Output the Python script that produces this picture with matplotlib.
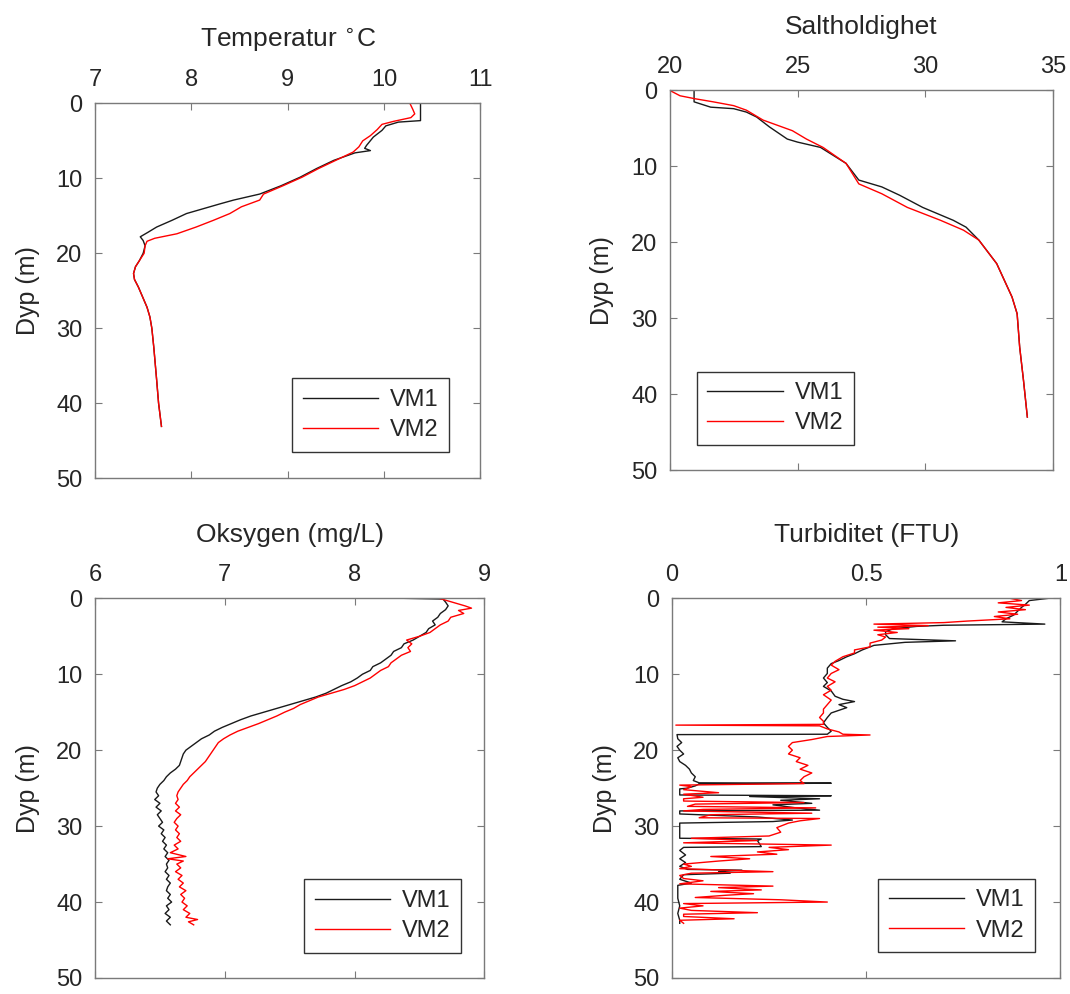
import matplotlib
matplotlib.use("Agg")
import matplotlib.pyplot as plt

plt.rcParams["font.family"] = ["Liberation Sans", "DejaVu Sans"]
plt.rcParams["font.size"] = 17

# ---- Temperatur ----
temp_d1 = [0, 2.3, 2.5, 3.0, 3.6, 4.5, 5.6, 6.0, 6.3, 6.6, 7.6, 8.7, 9.85, 11.0, 12.1, 12.9,
           13.4, 14.7, 15.6, 16.5, 17.2, 17.8, 18.3, 19.0, 20.0, 21.0, 21.8, 22.7, 23.5, 24.5,
           26.0, 27.2, 28.5, 30.0, 32.5, 36.9, 40.0, 43.1]
temp_v1 = [10.38, 10.38, 10.15, 10.02, 9.98, 9.89, 9.82, 9.80, 9.86, 9.70, 9.48, 9.30, 9.13, 8.93,
           8.71, 8.44, 8.30, 7.95, 7.80, 7.64, 7.55, 7.47, 7.50, 7.52, 7.50, 7.46, 7.42, 7.40,
           7.41, 7.45, 7.50, 7.54, 7.57, 7.59, 7.61, 7.64, 7.66, 7.69]
temp_d2 = [0, 0.8, 1.4, 1.9, 2.4, 2.8, 3.5, 4.3, 5.0, 5.8, 6.5, 7.6, 8.7, 9.85, 11.0, 12.1,
           12.9, 13.8, 14.7, 15.6, 16.5, 17.4, 18.0, 18.4, 19.0, 20.0, 21.0, 21.8, 22.7, 23.5,
           24.5, 26.0, 27.2, 28.5, 30.0, 32.5, 36.9, 40.0, 43.1]
temp_v2 = [10.27, 10.30, 10.32, 10.28, 10.10, 9.98, 9.93, 9.86, 9.78, 9.74, 9.68, 9.50, 9.32,
           9.15, 8.95, 8.75, 8.71, 8.52, 8.40, 8.23, 8.05, 7.85, 7.62, 7.54, 7.52, 7.51, 7.46,
           7.42, 7.40, 7.41, 7.45, 7.50, 7.54, 7.57, 7.59, 7.61, 7.64, 7.66, 7.69]

# ---- Saltholdighet ----
salt_d1 = [0, 1.5, 2.2, 2.4, 2.85, 3.5, 4.8, 6.4, 6.8, 7.5, 9.6, 11.8, 12.7, 13.8, 15.4, 17.1,
           18.0, 19.7, 22.8, 25.0, 27.2, 29.4, 33.8, 38.2, 43.0]
salt_v1 = [20.95, 20.95, 21.6, 22.5, 23.0, 23.4, 23.9, 24.6, 25.0, 25.9, 26.9, 27.4, 28.3, 29.0,
           29.9, 31.1, 31.6, 32.1, 32.8, 33.1, 33.4, 33.6, 33.7, 33.85, 34.0]
salt_d2 = [0, 0.7, 1.1, 1.5, 2.0, 2.6, 3.9, 5.3, 6.4, 7.5, 9.6, 12.3, 13.6, 15.4, 17.1, 18.4,
           19.7, 22.8, 25.0, 27.2, 29.4, 33.8, 38.2, 43.0]
salt_v2 = [20.0, 20.4, 21.0, 21.7, 22.5, 23.0, 23.65, 24.8, 25.35, 26.0, 26.9, 27.4, 28.3, 29.3,
           30.6, 31.5, 32.1, 32.8, 33.1, 33.4, 33.6, 33.7, 33.85, 34.0]

# ---- Oksygen ----
oks_d1 = [0, 0.1, 0.5, 1.0, 1.5, 2.0, 2.5, 3.0, 3.5, 4.0, 4.5, 5.0, 5.5, 6.0, 6.5, 7.0, 7.5, 8.0,
          8.5, 9.0, 9.5, 10.0, 10.5, 11.0, 11.5, 12.0, 12.5, 13.0, 13.5, 14.0, 14.5, 15.0, 15.5,
          16.0, 16.5, 17.0, 17.5, 18.0, 18.5, 19.0, 19.5, 20.0, 20.5, 21.0, 21.5, 22.0, 22.5,
          23.0, 23.5, 24.0, 24.5, 25.0, 25.5, 26.0, 26.5, 27.0, 27.5, 28.0, 28.5, 29.0, 29.5,
          30.0, 30.5, 31.0, 31.5, 32.0, 32.5, 33.0, 33.5, 34.0, 34.5, 35.0, 35.5, 36.0, 36.5,
          37.0, 37.5, 38.0, 38.5, 39.0, 39.5, 40.0, 40.5, 41.0, 41.5, 42.0, 42.5, 43.0]
oks_v1 = [8.37, 8.68, 8.70, 8.72, 8.70, 8.66, 8.64, 8.60, 8.62, 8.57, 8.55, 8.50, 8.45, 8.38,
          8.36, 8.30, 8.28, 8.24, 8.20, 8.14, 8.12, 8.06, 8.02, 7.97, 7.90, 7.84, 7.78, 7.70,
          7.60, 7.50, 7.40, 7.30, 7.20, 7.12, 7.05, 6.98, 6.92, 6.88, 6.82, 6.78, 6.74, 6.70,
          6.68, 6.67, 6.66, 6.65, 6.62, 6.58, 6.55, 6.53, 6.50, 6.48, 6.47, 6.49, 6.46, 6.50,
          6.47, 6.51, 6.48, 6.50, 6.52, 6.49, 6.53, 6.51, 6.54, 6.52, 6.55, 6.53, 6.56, 6.54,
          6.57, 6.55, 6.56, 6.54, 6.57, 6.55, 6.58, 6.56, 6.55, 6.58, 6.56, 6.59, 6.55, 6.57,
          6.54, 6.58, 6.55, 6.58]
oks_d2 = [0, 0.5, 1.0, 1.3, 1.6, 2.0, 2.5, 3.0, 3.5, 4.0, 4.5, 5.0, 5.5, 6.0, 6.5, 7.0, 7.5, 8.0,
          8.5, 9.0, 9.5, 10.0, 10.5, 11.0, 11.5, 12.0, 12.5, 13.0, 13.5, 14.0, 14.5, 15.0, 15.5,
          16.0, 16.5, 17.0, 17.5, 18.0, 18.5, 19.0, 19.5, 20.0, 20.5, 21.0, 21.5, 22.0, 22.5,
          23.0, 23.5, 24.0, 24.5, 25.0, 25.5, 26.0, 26.5, 27.0, 27.5, 28.0, 28.5, 29.0, 29.5,
          30.0, 30.5, 31.0, 31.5, 32.0, 32.5, 33.0, 33.5, 34.0, 34.3, 34.6, 35.0, 35.5, 36.0,
          36.5, 37.0, 37.5, 38.0, 38.5, 39.0, 39.5, 40.0, 40.5, 41.0, 41.5, 42.0, 42.3, 42.6, 43.0]
oks_v2 = [8.65, 8.75, 8.85, 8.90, 8.80, 8.84, 8.74, 8.72, 8.66, 8.62, 8.58, 8.50, 8.40, 8.44,
          8.41, 8.43, 8.36, 8.32, 8.28, 8.26, 8.20, 8.16, 8.12, 8.06, 8.00, 7.92, 7.82, 7.72,
          7.65, 7.58, 7.53, 7.46, 7.40, 7.33, 7.26, 7.18, 7.10, 7.04, 6.99, 6.95, 6.93, 6.91,
          6.89, 6.87, 6.85, 6.82, 6.79, 6.76, 6.73, 6.71, 6.68, 6.66, 6.64, 6.63, 6.64, 6.62,
          6.65, 6.62, 6.66, 6.63, 6.61, 6.64, 6.62, 6.65, 6.63, 6.66, 6.61, 6.64, 6.58, 6.70,
          6.56, 6.68, 6.63, 6.66, 6.62, 6.67, 6.64, 6.68, 6.65, 6.70, 6.66, 6.69, 6.67, 6.71,
          6.68, 6.73, 6.70, 6.79, 6.72, 6.76]

# ---- Turbiditet ----
turb_d1 = [0.0, 0.3, 0.8, 1.2, 1.7, 2.2, 2.7, 3.1, 3.4, 3.55, 3.7, 4.0, 4.4, 4.8, 5.3, 5.6, 5.8,
           6.2, 6.8, 7.3, 7.7, 8.2, 8.6, 9.2, 9.9, 10.5, 11.1, 11.6, 12.2, 12.9, 13.3, 13.6, 14.0,
           14.4, 15.1, 15.7, 16.4, 17.0, 17.5, 17.9, 17.95, 18.5, 19.0, 19.5, 20.0, 20.5, 21.0,
           21.5, 22.0, 22.5, 23.0, 23.5, 24.0, 24.3, 24.35, 24.45, 24.7, 25.0, 25.1, 25.5, 25.9,
           26.0, 26.1, 26.4, 26.6, 27.0, 27.2, 27.6, 27.9, 28.0, 28.4, 28.8, 29.2, 29.4, 29.6,
           30.5, 31.6, 31.7, 31.9, 32.7, 32.8, 33.2, 33.8, 34.3, 34.8, 35.3, 35.7, 35.8, 36.0,
           36.2, 36.4, 37.0, 37.5, 37.8, 38.5, 39.5, 40.5, 41.5, 42.4, 42.8]
turb_v1 = [0.97, 0.92, 0.91, 0.90, 0.89, 0.88, 0.86, 0.85, 0.96, 0.70, 0.63, 0.57, 0.55, 0.55,
           0.56, 0.73, 0.60, 0.52, 0.49, 0.47, 0.45, 0.43, 0.41, 0.40, 0.40, 0.39, 0.40, 0.39,
           0.41, 0.42, 0.44, 0.47, 0.43, 0.45, 0.41, 0.40, 0.39, 0.40, 0.41, 0.40, 0.013, 0.015,
           0.025, 0.013, 0.02, 0.03, 0.015, 0.02, 0.035, 0.045, 0.05, 0.06, 0.055, 0.07, 0.41,
           0.07, 0.06, 0.04, 0.02, 0.02, 0.02, 0.41, 0.20, 0.38, 0.28, 0.36, 0.26, 0.32, 0.38,
           0.02, 0.02, 0.22, 0.31, 0.26, 0.02, 0.02, 0.02, 0.23, 0.22, 0.23, 0.03, 0.02, 0.035,
           0.02, 0.035, 0.02, 0.04, 0.18, 0.12, 0.15, 0.03, 0.02, 0.05, 0.015, 0.015, 0.015,
           0.02, 0.015, 0.02, 0.02]
turb_d2 = [0.0, 0.3, 0.6, 0.9, 1.2, 1.5, 1.8, 2.1, 2.4, 2.7, 3.0, 3.2, 3.4, 3.6, 3.8, 4.0, 4.2,
           4.5, 4.8, 5.1, 5.5, 5.9, 6.4, 6.8, 7.2, 7.7, 8.3, 8.8, 9.4, 9.9, 10.5, 11.0, 11.6,
           12.1, 12.7, 13.4, 14.0, 14.6, 15.1, 15.7, 16.2, 16.6, 16.7, 16.8, 17.2, 17.6, 17.9,
           18.0, 18.2, 18.6, 19.0, 19.5, 20.0, 20.5, 21.0, 21.5, 22.0, 22.5, 23.0, 23.5, 24.0,
           24.4, 24.6, 24.8, 25.2, 25.6, 25.8, 26.2, 26.4, 26.7, 26.9, 27.1, 27.4, 27.6, 27.8,
           28.0, 28.3, 28.5, 28.9, 29.0, 29.3, 29.6, 30.2, 30.8, 31.3, 31.6, 31.9, 32.2, 32.5,
           32.8, 33.1, 33.4, 33.7, 34.0, 34.3, 34.6, 35.0, 35.3, 35.6, 36.0, 36.2, 36.5, 36.9,
           37.2, 37.6, 37.9, 38.1, 38.4, 38.6, 38.9, 39.1, 39.4, 39.7, 40.0, 40.2, 40.5, 40.8,
           41.1, 41.4, 41.6, 41.9, 42.2, 42.4, 42.8]
turb_v2 = [0.87, 0.90, 0.84, 0.92, 0.86, 0.91, 0.84, 0.89, 0.83, 0.87, 0.76, 0.70, 0.52, 0.66,
           0.53, 0.61, 0.52, 0.58, 0.53, 0.55, 0.54, 0.51, 0.51, 0.47, 0.47, 0.44, 0.42, 0.41,
           0.43, 0.41, 0.40, 0.42, 0.40, 0.41, 0.39, 0.41, 0.40, 0.39, 0.39, 0.38, 0.39, 0.39,
           0.01, 0.38, 0.40, 0.43, 0.44, 0.51, 0.40, 0.36, 0.31, 0.30, 0.31, 0.30, 0.33, 0.32,
           0.35, 0.33, 0.36, 0.34, 0.33, 0.34, 0.02, 0.05, 0.03, 0.12, 0.03, 0.08, 0.03, 0.03,
           0.34, 0.06, 0.04, 0.37, 0.08, 0.03, 0.36, 0.10, 0.07, 0.38, 0.33, 0.30, 0.27, 0.28,
           0.25, 0.05, 0.22, 0.03, 0.41, 0.25, 0.30, 0.22, 0.27, 0.10, 0.20, 0.12, 0.03, 0.05,
           0.02, 0.26, 0.05, 0.02, 0.03, 0.08, 0.02, 0.26, 0.12, 0.23, 0.10, 0.21, 0.14, 0.06,
           0.28, 0.40, 0.03, 0.08, 0.02, 0.05, 0.22, 0.03, 0.03, 0.16, 0.02, 0.03]

panels = [
    ("Temperatur $^{\\circ}$C", temp_d1, temp_v1, temp_d2, temp_v2, (7, 11), [7, 8, 9, 10, 11], ["7", "8", "9", "10", "11"]),
    ("Saltholdighet", salt_d1, salt_v1, salt_d2, salt_v2, (20, 35), [20, 25, 30, 35], ["20", "25", "30", "35"]),
    ("Oksygen (mg/L)", oks_d1, oks_v1, oks_d2, oks_v2, (6, 9), [6, 7, 8, 9], ["6", "7", "8", "9"]),
    ("Turbiditet (FTU)", turb_d1, turb_v1, turb_d2, turb_v2, (0, 1), [0, 0.5, 1], ["0", "0.5", "1"]),
]

# axes rectangles (fig fraction) and legend anchors
rects = [[0.0888, 0.519, 0.360, 0.377],
         [0.626, 0.527, 0.358, 0.382],
         [0.0888, 0.0161, 0.364, 0.382],
         [0.628, 0.0161, 0.363, 0.382]]
leg_pos = [("lower right", (0.92, 0.07)),
           ("lower left", (0.07, 0.066)),
           ("lower right", (0.94, 0.066)),
           ("lower right", (0.935, 0.068))]

fig = plt.figure(figsize=(10.7, 9.94), dpi=100)
spine_c = "#7a7a7a"
text_c = "#262626"

for i, (title, d1, v1, d2, v2, xlim, xt, xtl) in enumerate(panels):
    ax = fig.add_axes(rects[i])
    ax.plot(v1, d1, color="#1a1a1a", lw=1.0, label="VM1")
    ax.plot(v2, d2, color="#ff0000", lw=1.0, label="VM2")
    ax.set_xlim(*xlim)
    ax.set_ylim(50, 0)
    ax.set_xticks(xt)
    ax.set_xticklabels(xtl)
    ax.set_yticks([0, 10, 20, 30, 40, 50])
    ax.xaxis.tick_top()
    ax.tick_params(direction="in", length=5, width=0.8, colors=spine_c, labelcolor=text_c,
                   top=True, bottom=True, left=True, right=True, labelsize=17, pad=9)
    for s in ax.spines.values():
        s.set_color(spine_c)
        s.set_linewidth(1.0)
    ax.set_title(title, color=text_c, fontsize=19, pad=16)
    ax.set_ylabel("Dyp (m)", color=text_c, fontsize=18, labelpad=12)
    loc, anchor = leg_pos[i]
    leg = ax.legend(loc=loc, bbox_to_anchor=anchor, borderaxespad=0, fancybox=False,
                    fontsize=17, handlelength=3.2, handletextpad=0.5, labelspacing=0.35,
                    borderpad=0.45, framealpha=1)
    leg.get_frame().set_edgecolor("#333333")
    leg.get_frame().set_linewidth(1.0)
    for t in leg.get_texts():
        t.set_color(text_c)

fig.savefig("out.png", dpi=100)
